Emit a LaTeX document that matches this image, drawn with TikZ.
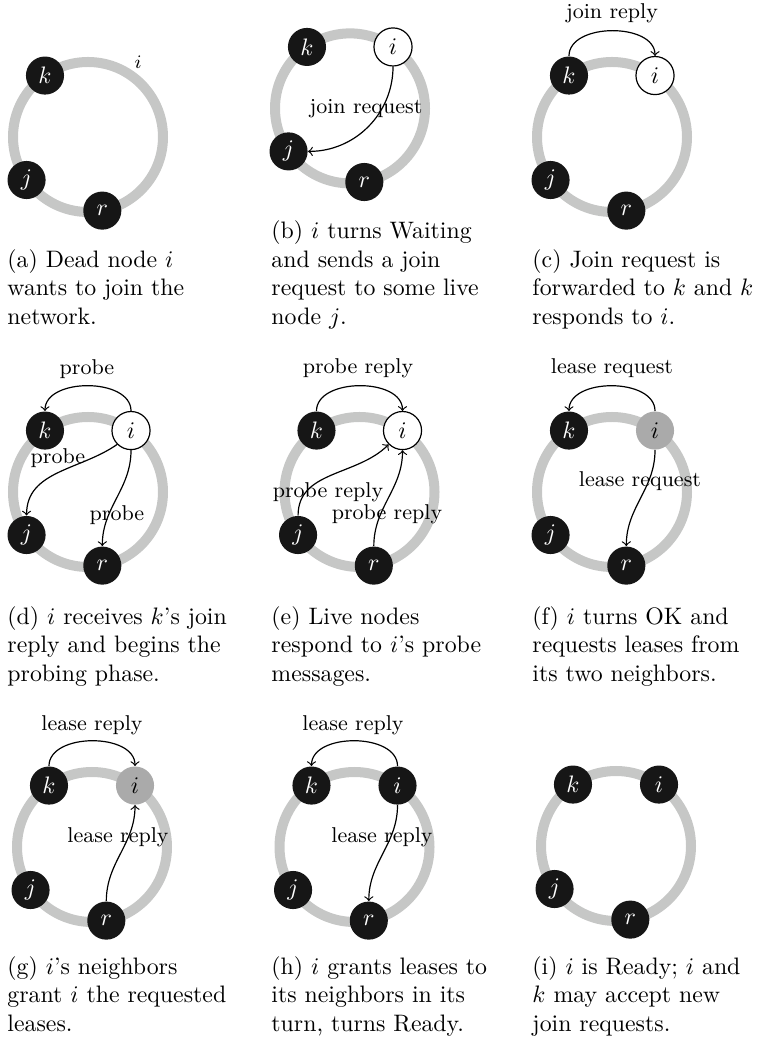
\documentclass[tikz,border=0pt]{standalone}
\definecolor{ringgray}{RGB}{198,199,198}
\definecolor{nodeblack}{RGB}{22,22,22}
\definecolor{okgray}{RGB}{170,170,170}
\tikzset{
  ring/.style={draw=ringgray, line width=4.2pt},
  peer/.style={circle, minimum size=16pt, inner sep=0pt},
  live/.style={peer, fill=nodeblack, text=white},
  waiting/.style={peer, draw=black, fill=white, line width=0.5pt},
  oknode/.style={peer, fill=okgray},
  msg/.style={->, line width=0.5pt},
  lbl/.style={font=\small, inner sep=0pt},
  captext/.style={anchor=north west, align=left, inner sep=0pt, font=\normalsize},
}
\begin{document}
\begin{tikzpicture}[x=0.42pt, y=0.42pt]
\path[use as bounding box] (0,0) rectangle (760,1044);

% (a)
\begin{scope}[shift={(88,907)}]
  \draw[ring] (0,0) circle (75);
  \node[live] (a-k) at (125:75) {$k$};
  \node[live] (a-j) at (215:75) {$j$};
  \node[live] (a-r) at (281:75) {$r$};
  \node[font=\footnotesize, inner sep=0pt] (a-i) at (50,75) {$i$};
\end{scope}
\node[captext] (a-cap) at (7,795) {(a) Dead node $i$\\wants to join the\\network.};

% (b)
\begin{scope}[shift={(350,935.6)}]
  \draw[ring] (0,0) circle (75);
  \node[live] (b-k) at (125:75) {$k$};
  \node[waiting] (b-i) at (55:75) {$i$};
  \node[live] (b-j) at (215:75) {$j$};
  \node[live] (b-r) at (281:75) {$r$};
  \draw[msg] (b-i.south) to[out=-90,in=0] (b-j.east);
  \node[lbl] (b-l1) at (16,0) {join request};
\end{scope}
\node[captext] (b-cap) at (271,823.5) {(b) $i$ turns Waiting\\and sends a join\\request to some live\\node $j$.};

% (c)
\begin{scope}[shift={(612,907)}]
  \draw[ring] (0,0) circle (75);
  \node[live] (c-k) at (125:75) {$k$};
  \node[waiting] (c-i) at (55:75) {$i$};
  \node[live] (c-j) at (215:75) {$j$};
  \node[live] (c-r) at (281:75) {$r$};
  \draw[msg] (c-k.north) to[out=90,in=90] (c-i.north);
  \node[lbl] (c-l1) at (0,124) {join reply};
\end{scope}
\node[captext] (c-cap) at (532,795) {(c) Join request is\\forwarded to $k$ and $k$\\responds to $i$.};

% (d)
\begin{scope}[shift={(88,552)}]
  \draw[ring] (0,0) circle (75);
  \node[live] (d-k) at (125:75) {$k$};
  \node[waiting] (d-i) at (55:75) {$i$};
  \node[live] (d-j) at (215:75) {$j$};
  \node[live] (d-r) at (281:75) {$r$};
  \draw[msg] (d-i.north) to[out=90,in=90] (d-k.north);
  \draw[msg] (d-i.south west) to[out=215,in=90] (d-j.north);
  \draw[msg] (d-i.south) to[out=-90,in=90] (d-r.north);
  \node[lbl] (d-l1) at (-1,123) {probe};
  \node[lbl] (d-l2) at (-30,34) {probe};
  \node[lbl] (d-l3) at (29,-23) {probe};
\end{scope}
\node[captext] (d-cap) at (7,438) {(d) $i$ receives $k$'s join\\reply and begins the\\probing phase.};

% (e)
\begin{scope}[shift={(359.5,552)}]
  \draw[ring] (0,0) circle (75);
  \node[live] (e-k) at (125:75) {$k$};
  \node[waiting] (e-i) at (55:75) {$i$};
  \node[live] (e-j) at (215:75) {$j$};
  \node[live] (e-r) at (281:75) {$r$};
  \draw[msg] (e-k.north) to[out=90,in=90] (e-i.north);
  \draw[msg] (e-j.north) to[out=90,in=225] (e-i.south west);
  \draw[msg] (e-r.north) to[out=90,in=-90] (e-i.south);
  \node[lbl] (e-l1) at (-1.5,124) {probe reply};
  \node[lbl] (e-l2) at (-31.5,0) {probe reply};
  \node[lbl] (e-l3) at (27.5,-22) {probe reply};
\end{scope}
\node[captext] (e-cap) at (271,438) {(e) Live nodes\\respond to $i$'s probe\\messages.};

% (f)
\begin{scope}[shift={(612,552)}]
  \draw[ring] (0,0) circle (75);
  \node[live] (f-k) at (125:75) {$k$};
  \node[oknode] (f-i) at (55:75) {$i$};
  \node[live] (f-j) at (215:75) {$j$};
  \node[live] (f-r) at (281:75) {$r$};
  \draw[msg] (f-i.north) to[out=90,in=90] (f-k.north);
  \draw[msg] (f-i.south) to[out=-90,in=90] (f-r.north);
  \node[lbl] (f-l1) at (0,124) {lease request};
  \node[lbl] (f-l2) at (28,11) {lease request};
\end{scope}
\node[captext] (f-cap) at (532,438) {(f) $i$ turns OK and\\requests leases from\\its two neighbors.};

% (g)
\begin{scope}[shift={(92,197)}]
  \draw[ring] (0,0) circle (75);
  \node[live] (g-k) at (125:75) {$k$};
  \node[oknode] (g-i) at (55:75) {$i$};
  \node[live] (g-j) at (215:75) {$j$};
  \node[live] (g-r) at (281:75) {$r$};
  \draw[msg] (g-k.north) to[out=90,in=90] (g-i.north);
  \draw[msg] (g-r.north) to[out=90,in=-90] (g-i.south);
  \node[lbl] (g-l1) at (0,122) {lease reply};
  \node[lbl] (g-l2) at (26,10) {lease reply};
\end{scope}
\node[captext] (g-cap) at (7,88) {(g) $i$'s neighbors\\grant $i$ the requested\\leases.};

% (h)
\begin{scope}[shift={(354.5,197)}]
  \draw[ring] (0,0) circle (75);
  \node[live] (h-k) at (125:75) {$k$};
  \node[live] (h-i) at (55:75) {$i$};
  \node[live] (h-j) at (215:75) {$j$};
  \node[live] (h-r) at (281:75) {$r$};
  \draw[msg] (h-i.north) to[out=90,in=90] (h-k.north);
  \draw[msg] (h-i.south) to[out=-90,in=90] (h-r.north);
  \node[lbl] (h-l1) at (-1.5,122) {lease reply};
  \node[lbl] (h-l2) at (27.5,10) {lease reply};
\end{scope}
\node[captext] (h-cap) at (271,88) {(h) $i$ grants leases to\\its neighbors in its\\turn, turns Ready.};

% (i)
\begin{scope}[shift={(616,198)}]
  \draw[ring] (0,0) circle (75);
  \node[live] (i-k) at (125:75) {$k$};
  \node[live] (i-i) at (55:75) {$i$};
  \node[live] (i-j) at (215:75) {$j$};
  \node[live] (i-r) at (281:75) {$r$};
\end{scope}
\node[captext] (i-cap) at (532,88) {(i) $i$ is Ready; $i$ and\\$k$ may accept new\\join requests.};
\end{tikzpicture}
\end{document}
